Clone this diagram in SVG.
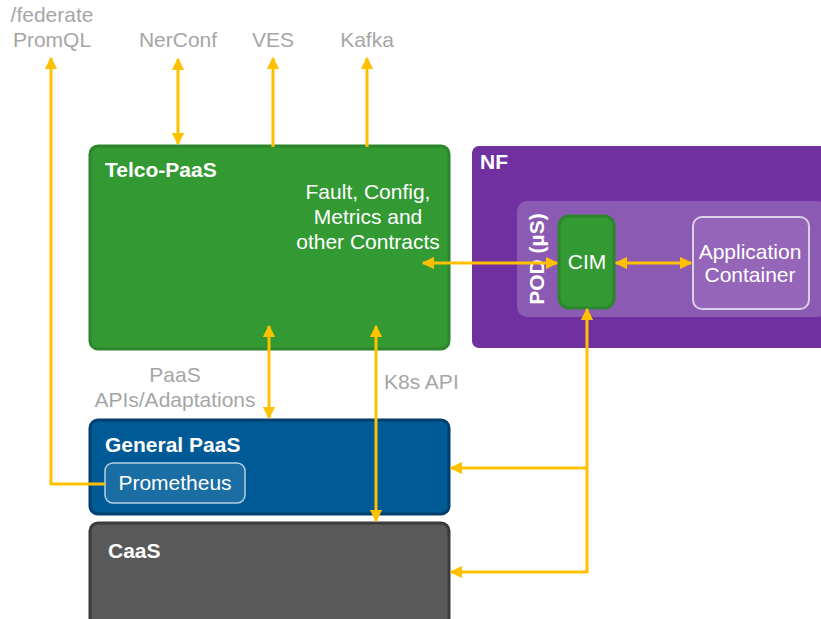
<svg xmlns="http://www.w3.org/2000/svg" width="821" height="619" viewBox="0 0 821 619">
  <style>
    text { font-family: "Liberation Sans", Arial, sans-serif; }
    .lbl { fill: #a6a6a6; font-size: 21px; }
    .title { fill: #ffffff; font-size: 21px; font-weight: bold; }
    .body { fill: #ffffff; font-size: 21px; }
    .conn { stroke: #ffc000; stroke-width: 3; fill: none; }
  </style>
  <defs>
    <marker id="ah" viewBox="0 0 10 10" refX="9" refY="5" markerWidth="4.2" markerHeight="4.2" orient="auto-start-reverse">
      <path d="M0,0 L10,5 L0,10 z" fill="#ffc000"/>
    </marker>
  </defs>

  <!-- external interface labels -->
  <g id="labels">
    <text class="lbl" x="52" y="22" text-anchor="middle">/federate</text>
    <text class="lbl" x="52" y="47" text-anchor="middle">PromQL</text>
    <text class="lbl" x="178" y="47" text-anchor="middle">NerConf</text>
    <text class="lbl" x="273" y="47" text-anchor="middle">VES</text>
    <text class="lbl" x="367" y="47" text-anchor="middle">Kafka</text>
    <text class="lbl" x="175" y="382" text-anchor="middle">PaaS</text>
    <text class="lbl" x="175" y="407" text-anchor="middle">APIs/Adaptations</text>
    <text class="lbl" x="384" y="389">K8s API</text>
  </g>

  <g id="telco-paas">
    <rect x="90" y="146" width="359" height="203" rx="8" fill="#339933" stroke="#2d862d" stroke-width="3"/>
    <text class="title" x="105" y="177">Telco-PaaS</text>
    <text class="body" x="368" y="199" text-anchor="middle">Fault, Config,</text>
    <text class="body" x="368" y="224" text-anchor="middle">Metrics and</text>
    <text class="body" x="368" y="249" text-anchor="middle">other Contracts</text>
  </g>

  <g id="nf">
    <rect x="472" y="146" width="360" height="202" rx="7" fill="#7030a0"/>
    <text class="title" x="480" y="169" font-size="20">NF</text>
    <rect x="517" y="201" width="310" height="116" rx="10" fill="#8b5ab2"/>
    <text class="title" transform="translate(544,259) rotate(-90)" text-anchor="middle" font-size="16">POD (µS)</text>
  </g>

  <g id="cim">
    <rect x="559" y="216" width="55" height="92" rx="10" fill="#339933" stroke="#2d862d" stroke-width="3"/>
    <text class="body" x="587" y="269" text-anchor="middle" font-size="16">CIM</text>
  </g>

  <g id="app-container">
    <rect x="693" y="217" width="116" height="92" rx="9" fill="#9465b8" stroke="#dcd0e8" stroke-width="2"/>
    <text class="body" x="750" y="259" text-anchor="middle" font-size="17">Application</text>
    <text class="body" x="750" y="282" text-anchor="middle" font-size="17">Container</text>
  </g>

  <g id="general-paas">
    <rect x="90" y="420" width="359" height="94" rx="8" fill="#005a96" stroke="#003f6e" stroke-width="3"/>
    <text class="title" x="105" y="452">General PaaS</text>
    <rect x="105" y="463" width="140" height="40" rx="8" fill="#1b6ea3" stroke="#b6cfe3" stroke-width="1.5"/>
    <text class="body" x="175" y="490" text-anchor="middle" font-size="17">Prometheus</text>
  </g>

  <g id="caas">
    <rect x="90" y="523" width="359" height="104" rx="8" fill="#595959" stroke="#3b3b3b" stroke-width="3"/>
    <text class="title" x="108" y="558" font-size="25">CaaS</text>
  </g>

  <g id="connectors">
    <polyline class="conn" points="105,484 51,484 51,58" marker-end="url(#ah)"/>
    <line class="conn" x1="178" y1="59" x2="178" y2="144" marker-start="url(#ah)" marker-end="url(#ah)"/>
    <line class="conn" x1="273" y1="147" x2="273" y2="58" marker-end="url(#ah)"/>
    <line class="conn" x1="367" y1="147" x2="367" y2="58" marker-end="url(#ah)"/>
    <line class="conn" x1="423" y1="263" x2="557" y2="263" marker-start="url(#ah)" marker-end="url(#ah)"/>
    <line class="conn" x1="616" y1="263" x2="691" y2="263" marker-start="url(#ah)" marker-end="url(#ah)"/>
    <line class="conn" x1="269" y1="326" x2="269" y2="418" marker-start="url(#ah)" marker-end="url(#ah)"/>
    <line class="conn" x1="376" y1="326" x2="376" y2="521" marker-start="url(#ah)" marker-end="url(#ah)"/>
    <polyline class="conn" points="451,572 587,572 587,309" marker-start="url(#ah)" marker-end="url(#ah)"/>
    <line class="conn" x1="587" y1="468" x2="451" y2="468" marker-end="url(#ah)"/>
  </g>
</svg>
